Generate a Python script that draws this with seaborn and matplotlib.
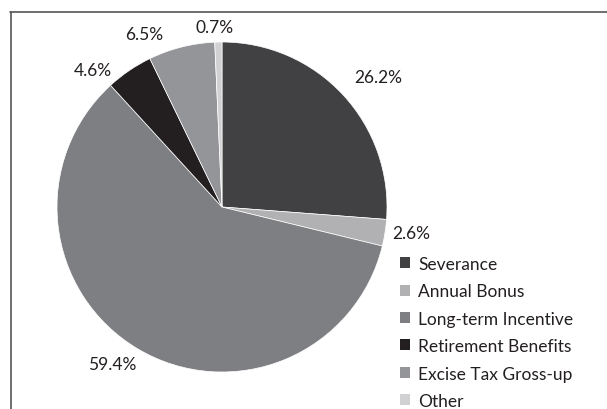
import matplotlib
matplotlib.use("Agg")
import matplotlib.pyplot as plt
import seaborn as sns
from matplotlib.patches import Patch
from matplotlib.lines import Line2D
import numpy as np

categories = ["Severance", "Annual Bonus", "Long-term Incentive",
              "Retirement Benefits", "Excise Tax Gross-up", "Other"]
shares = [26.2, 2.6, 59.4, 4.6, 6.5, 0.7]
colors = ["#414143", "#b1b1b3", "#7e7f82", "#231f20", "#949599", "#d1d1d3"]

sns.set_theme(style="white")
plt.rcParams["font.family"] = ["Lato", "DejaVu Sans"]

W, H = 607, 410
fig = plt.figure(figsize=(W / 100, H / 100), dpi=100)
ax = fig.add_axes([0, 0, 1, 1])

cx, cy, r = 222, H - 208, 165
wedges, _, pct = ax.pie(
    shares, colors=colors, startangle=90, counterclock=False,
    center=(cx, cy), radius=r, autopct="%.1f%%", pctdistance=1.17,
    wedgeprops=dict(edgecolor="white", linewidth=0.5),
    textprops=dict(fontsize=12.5, color="#231f20"),
    frame=True,
)
ax.set_xlim(0, W)
ax.set_ylim(0, H)
ax.set_aspect("equal")
ax.axis("off")

# nudge label placement around the rim (angle offset in degrees, radius factor)
nudges = [(-3, 1.23), (1.2, 1.16), (-4.5, 1.16), (9, 1.14), (10, 1.15), (1.2, 1.09)]
theta = 90.0
for t, v, (da, rf) in zip(pct, shares, nudges):
    span = v * 3.6
    mid = np.deg2rad(theta - span / 2 + da)
    t.set_position((cx + rf * r * np.cos(mid), cy + rf * r * np.sin(mid)))
    theta -= span

handles = [Patch(facecolor=c, edgecolor="none") for c in colors]
ax.legend(handles, categories, loc="upper left",
          bbox_to_anchor=(391 / W, 1 - 248 / H), bbox_transform=fig.transFigure,
          frameon=False, fontsize=12.5, handlelength=0.6, handleheight=0.6,
          handletextpad=0.45, labelspacing=0.66, borderpad=0, labelcolor="#231f20")

# partial frame: top and left borders
fig.add_artist(Line2D([10 / W, 1], [1 - 13 / H] * 2, transform=fig.transFigure,
                      color="#555555", linewidth=1.2))
fig.add_artist(Line2D([11 / W] * 2, [0, 1 - 13 / H], transform=fig.transFigure,
                      color="#555555", linewidth=1.2))

fig.savefig("out.png", dpi=100)
